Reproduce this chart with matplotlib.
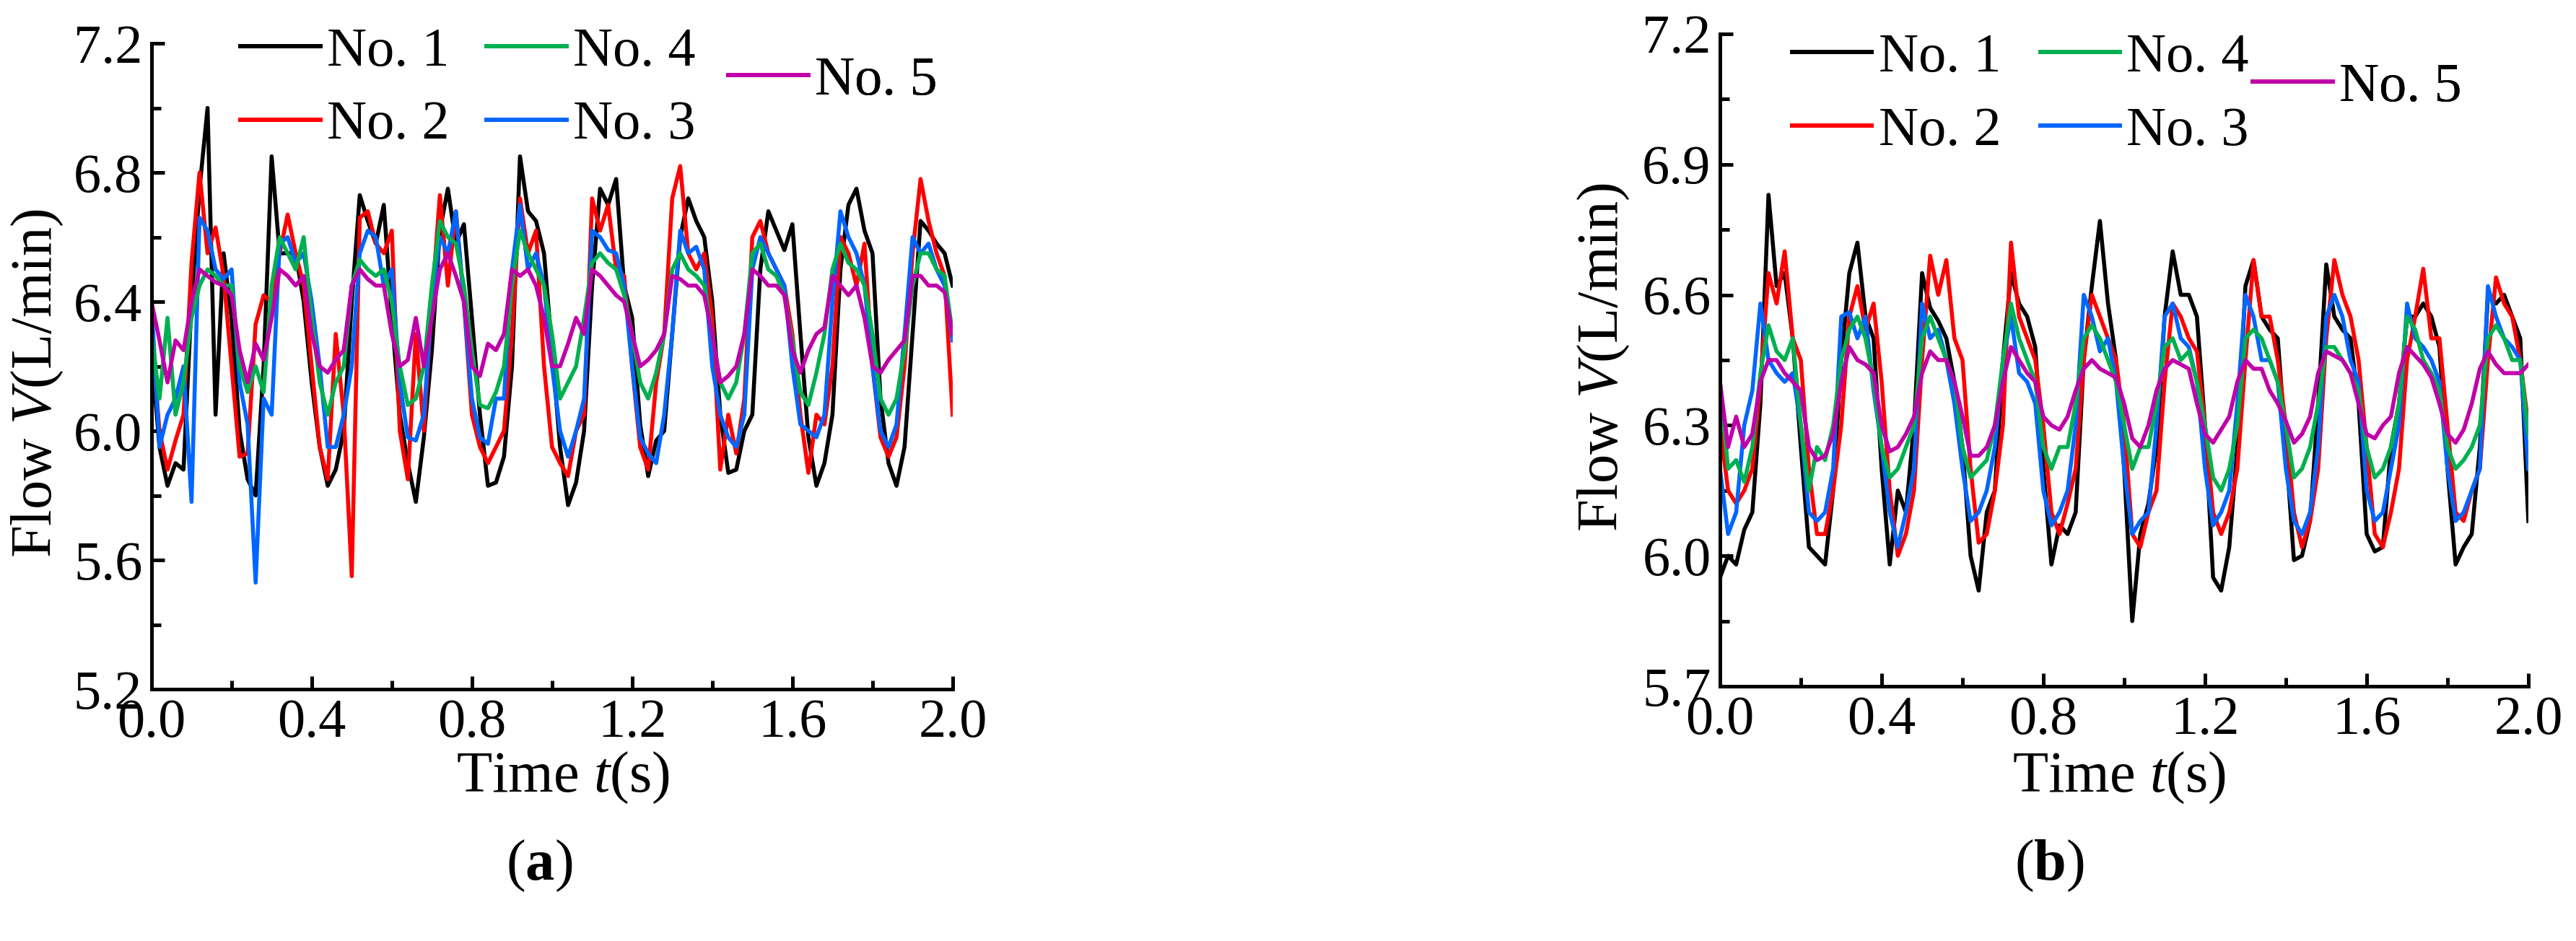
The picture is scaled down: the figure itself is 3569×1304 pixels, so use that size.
import matplotlib
matplotlib.use("Agg")
import matplotlib.pyplot as plt
from matplotlib.ticker import MultipleLocator, FormatStrFormatter
from matplotlib.lines import Line2D
import numpy as np

plt.rcParams['font.family'] = ['Liberation Serif', 'DejaVu Serif']
plt.rcParams['mathtext.fontset'] = 'custom'
plt.rcParams['mathtext.rm'] = 'Liberation Serif'
plt.rcParams['mathtext.it'] = 'Liberation Serif:italic'
plt.rcParams['mathtext.bf'] = 'Liberation Serif:bold'

# time grid, 0 .. 2 s
t = np.round(np.arange(0, 101) * 0.02, 2)

# ---- panel (a) ----
a_no1 = [6.25, 5.95, 5.83, 5.90, 5.88, 6.40, 6.75, 7.00, 6.05, 6.55,
         6.35, 6.00, 5.85, 5.80, 6.20, 6.85, 6.55, 6.55, 6.55, 6.40,
         6.15, 5.95, 5.83, 5.88, 6.00, 6.40, 6.73, 6.65, 6.58, 6.70,
         6.35, 6.05, 5.90, 5.78, 5.98, 6.25, 6.62, 6.75, 6.58, 6.64,
         6.35, 6.05, 5.83, 5.84, 5.92, 6.20, 6.85, 6.68, 6.65, 6.55,
         6.25, 5.95, 5.77, 5.84, 6.00, 6.45, 6.75, 6.70, 6.78, 6.45,
         6.35, 6.02, 5.86, 5.97, 6.00, 6.30, 6.60, 6.72, 6.65, 6.60,
         6.40, 6.05, 5.87, 5.88, 6.00, 6.05, 6.50, 6.68, 6.62, 6.56,
         6.64, 6.30, 5.98, 5.83, 5.90, 6.05, 6.50, 6.70, 6.75, 6.62,
         6.55, 6.10, 5.90, 5.83, 5.95, 6.30, 6.65, 6.62, 6.58, 6.55,
         6.45]
a_no2 = [6.30, 6.00, 5.88, 5.97, 6.05, 6.52, 6.80, 6.55, 6.63, 6.48,
         6.20, 5.92, 5.93, 6.33, 6.42, 6.40, 6.55, 6.67, 6.55, 6.45,
         6.20, 5.95, 5.85, 6.30, 6.05, 5.55, 6.66, 6.68, 6.58, 6.55,
         6.62, 6.00, 5.85, 6.30, 6.00, 6.40, 6.73, 6.45, 6.68, 6.40,
         6.05, 5.95, 5.90, 5.95, 6.00, 6.30, 6.72, 6.55, 6.62, 6.20,
         5.95, 5.90, 5.86, 6.00, 6.05, 6.72, 6.62, 6.70, 6.50, 6.48,
         6.20, 5.95, 5.88, 6.15, 6.30, 6.72, 6.82, 6.55, 6.50, 6.55,
         6.35, 5.88, 6.05, 5.93, 6.10, 6.60, 6.65, 6.55, 6.50, 6.45,
         6.30, 6.05, 5.87, 6.05, 6.02, 6.20, 6.60, 6.55, 6.45, 6.58,
         6.20, 5.98, 5.92, 5.98, 6.20, 6.55, 6.78, 6.65, 6.55, 6.48,
         6.05]
a_no3 = [6.40, 5.95, 6.05, 6.10, 6.20, 5.78, 6.66, 6.62, 6.50, 6.47,
         6.50, 6.15, 6.02, 5.53, 6.10, 6.05, 6.58, 6.60, 6.52, 6.55,
         6.40, 6.20, 5.95, 5.95, 6.05, 6.20, 6.55, 6.62, 6.60, 6.45,
         6.50, 6.15, 5.98, 5.97, 6.05, 6.40, 6.60, 6.55, 6.68, 6.40,
         6.10, 5.98, 5.96, 6.10, 6.10, 6.50, 6.70, 6.50, 6.55, 6.45,
         6.20, 6.00, 5.92, 6.00, 6.10, 6.62, 6.60, 6.56, 6.55, 6.45,
         6.20, 5.98, 5.93, 5.90, 6.05, 6.30, 6.62, 6.55, 6.57, 6.50,
         6.20, 6.05, 5.98, 5.95, 6.05, 6.50, 6.60, 6.55, 6.50, 6.45,
         6.20, 6.02, 6.00, 5.98, 6.05, 6.40, 6.68, 6.60, 6.55, 6.45,
         6.20, 6.00, 5.95, 6.02, 6.30, 6.60, 6.55, 6.58, 6.50, 6.45,
         6.28]
a_no4 = [6.30, 6.10, 6.35, 6.05, 6.15, 6.35, 6.45, 6.50, 6.48, 6.45,
         6.45, 6.20, 6.12, 6.20, 6.12, 6.45, 6.60, 6.55, 6.50, 6.60,
         6.35, 6.15, 6.05, 6.15, 6.20, 6.45, 6.53, 6.50, 6.48, 6.50,
         6.40, 6.20, 6.08, 6.10, 6.20, 6.45, 6.65, 6.60, 6.58, 6.45,
         6.25, 6.08, 6.07, 6.12, 6.20, 6.45, 6.62, 6.55, 6.50, 6.45,
         6.30, 6.10, 6.15, 6.20, 6.35, 6.52, 6.55, 6.52, 6.50, 6.42,
         6.30, 6.15, 6.10, 6.18, 6.30, 6.50, 6.55, 6.50, 6.48, 6.45,
         6.30, 6.15, 6.10, 6.15, 6.30, 6.55, 6.58, 6.50, 6.48, 6.42,
         6.28, 6.12, 6.08, 6.18, 6.30, 6.50, 6.58, 6.52, 6.50, 6.45,
         6.30, 6.10, 6.05, 6.10, 6.25, 6.45, 6.55, 6.55, 6.50, 6.48,
         6.30]
a_no5 = [6.40, 6.28, 6.15, 6.28, 6.25, 6.40, 6.50, 6.48, 6.46, 6.45,
         6.42, 6.25, 6.15, 6.27, 6.22, 6.35, 6.50, 6.48, 6.45, 6.48,
         6.30, 6.20, 6.18, 6.22, 6.25, 6.45, 6.50, 6.47, 6.45, 6.45,
         6.30, 6.20, 6.22, 6.35, 6.20, 6.35, 6.50, 6.55, 6.48, 6.40,
         6.20, 6.17, 6.27, 6.25, 6.30, 6.50, 6.48, 6.50, 6.45, 6.35,
         6.20, 6.20, 6.27, 6.35, 6.30, 6.50, 6.48, 6.45, 6.42, 6.40,
         6.30, 6.20, 6.22, 6.25, 6.30, 6.48, 6.47, 6.45, 6.45, 6.42,
         6.30, 6.15, 6.17, 6.20, 6.30, 6.50, 6.48, 6.45, 6.45, 6.42,
         6.25, 6.18, 6.25, 6.30, 6.32, 6.48, 6.45, 6.42, 6.45, 6.35,
         6.20, 6.18, 6.22, 6.25, 6.28, 6.48, 6.48, 6.45, 6.45, 6.43,
         6.30]

# ---- panel (b) ----
b_no1 = [5.95, 6.00, 5.98, 6.06, 6.10, 6.35, 6.83, 6.62, 6.65, 6.50,
         6.25, 6.02, 6.00, 5.98, 6.15, 6.45, 6.65, 6.72, 6.55, 6.50,
         6.20, 5.98, 6.15, 6.10, 6.30, 6.65, 6.57, 6.54, 6.50, 6.40,
         6.25, 6.00, 5.92, 6.10, 6.15, 6.45, 6.65, 6.58, 6.55, 6.48,
         6.20, 5.98, 6.07, 6.05, 6.10, 6.45, 6.62, 6.77, 6.58, 6.45,
         6.20, 5.85, 6.05, 6.12, 6.25, 6.55, 6.70, 6.60, 6.60, 6.55,
         6.30, 5.95, 5.92, 6.02, 6.25, 6.62, 6.68, 6.55, 6.52, 6.50,
         6.25, 5.99, 6.00, 6.08, 6.35, 6.67, 6.55, 6.52, 6.50, 6.35,
         6.05, 6.01, 6.02, 6.25, 6.35, 6.55, 6.55, 6.58, 6.55, 6.48,
         6.20, 5.98, 6.02, 6.05, 6.25, 6.60, 6.58, 6.60, 6.55, 6.50,
         6.08]
b_no2 = [6.30, 6.15, 6.12, 6.15, 6.20, 6.40, 6.65, 6.58, 6.70, 6.50,
         6.45, 6.20, 6.05, 6.05, 6.15, 6.30, 6.55, 6.62, 6.52, 6.58,
         6.40, 6.15, 6.00, 6.05, 6.15, 6.45, 6.69, 6.60, 6.68, 6.50,
         6.45, 6.20, 6.03, 6.05, 6.15, 6.30, 6.72, 6.55, 6.50, 6.45,
         6.30, 6.10, 6.05, 6.12, 6.20, 6.45, 6.60, 6.55, 6.50, 6.45,
         6.30, 6.05, 6.02, 6.10, 6.15, 6.40, 6.58, 6.55, 6.50, 6.47,
         6.30, 6.10, 6.05, 6.10, 6.20, 6.45, 6.68, 6.55, 6.55, 6.45,
         6.30, 6.10, 6.02, 6.08, 6.20, 6.50, 6.68, 6.60, 6.55, 6.45,
         6.25, 6.05, 6.02, 6.10, 6.20, 6.45, 6.55, 6.66, 6.50, 6.50,
         6.30, 6.10, 6.08, 6.15, 6.20, 6.45, 6.64, 6.58, 6.55, 6.45,
         6.30]
b_no3 = [6.20, 6.05, 6.10, 6.30, 6.38, 6.58, 6.45, 6.42, 6.40, 6.42,
         6.30, 6.10, 6.08, 6.10, 6.20, 6.55, 6.56, 6.50, 6.55, 6.38,
         6.25, 6.10, 6.02, 6.10, 6.20, 6.58, 6.50, 6.52, 6.45, 6.35,
         6.20, 6.08, 6.10, 6.15, 6.25, 6.45, 6.55, 6.42, 6.40, 6.35,
         6.15, 6.07, 6.10, 6.15, 6.30, 6.60, 6.55, 6.47, 6.50, 6.40,
         6.20, 6.05, 6.08, 6.10, 6.30, 6.55, 6.58, 6.50, 6.48, 6.40,
         6.20, 6.07, 6.10, 6.15, 6.35, 6.60, 6.55, 6.45, 6.45, 6.40,
         6.20, 6.08, 6.05, 6.10, 6.25, 6.55, 6.60, 6.55, 6.45, 6.40,
         6.15, 6.08, 6.10, 6.20, 6.30, 6.58, 6.50, 6.48, 6.45, 6.40,
         6.20, 6.08, 6.10, 6.15, 6.20, 6.62, 6.55, 6.50, 6.48, 6.45,
         6.20]
b_no4 = [6.40, 6.20, 6.22, 6.17, 6.25, 6.42, 6.53, 6.47, 6.45, 6.50,
         6.30, 6.15, 6.25, 6.22, 6.30, 6.45, 6.52, 6.55, 6.50, 6.40,
         6.25, 6.18, 6.20, 6.25, 6.30, 6.50, 6.55, 6.50, 6.45, 6.40,
         6.25, 6.18, 6.20, 6.22, 6.30, 6.45, 6.58, 6.50, 6.45, 6.40,
         6.25, 6.20, 6.25, 6.25, 6.35, 6.50, 6.53, 6.50, 6.45, 6.40,
         6.30, 6.20, 6.25, 6.25, 6.35, 6.48, 6.50, 6.45, 6.47, 6.40,
         6.30, 6.18, 6.15, 6.20, 6.30, 6.50, 6.52, 6.50, 6.45, 6.40,
         6.30, 6.18, 6.20, 6.25, 6.35, 6.48, 6.48, 6.45, 6.42, 6.38,
         6.25, 6.18, 6.20, 6.25, 6.35, 6.55, 6.52, 6.45, 6.42, 6.38,
         6.25, 6.20, 6.22, 6.25, 6.30, 6.50, 6.53, 6.50, 6.45, 6.45,
         6.28]
b_no5 = [6.40, 6.25, 6.32, 6.25, 6.28, 6.40, 6.45, 6.45, 6.42, 6.40,
         6.38, 6.25, 6.22, 6.23, 6.28, 6.40, 6.48, 6.45, 6.44, 6.42,
         6.30, 6.24, 6.25, 6.28, 6.32, 6.42, 6.47, 6.45, 6.45, 6.40,
         6.32, 6.23, 6.23, 6.25, 6.30, 6.40, 6.48, 6.45, 6.42, 6.40,
         6.32, 6.30, 6.29, 6.32, 6.38, 6.43, 6.45, 6.43, 6.42, 6.41,
         6.35, 6.27, 6.25, 6.30, 6.38, 6.43, 6.45, 6.44, 6.43, 6.35,
         6.28, 6.26, 6.29, 6.32, 6.40, 6.45, 6.43, 6.43, 6.38, 6.35,
         6.31, 6.26, 6.28, 6.32, 6.42, 6.47, 6.46, 6.45, 6.42, 6.35,
         6.28, 6.27, 6.30, 6.32, 6.42, 6.48, 6.46, 6.44, 6.41, 6.35,
         6.28, 6.26, 6.29, 6.35, 6.43, 6.47, 6.44, 6.42, 6.42, 6.42,
         6.44]

names = ['No. 1', 'No. 2', 'No. 3', 'No. 4', 'No. 5']
colors = ['#000000', '#FF0000', '#0066FF', '#00B050', '#C000A8']

a_series = [a_no1, a_no2, a_no3, a_no4, a_no5]
b_series = [b_no1, b_no2, b_no3, b_no4, b_no5]

FS = 55
fig = plt.figure(figsize=(35.69, 13.04), dpi=100)
ax1 = fig.add_axes([0.0588, 0.2676, 0.3110, 0.6863])
ax2 = fig.add_axes([0.6677, 0.2707, 0.3138, 0.6933])


def style(ax, ylim, ymaj, ymin):
    ax.set_xlim(0, 2.0)
    ax.set_ylim(*ylim)
    ax.xaxis.set_major_locator(MultipleLocator(0.4))
    ax.xaxis.set_minor_locator(MultipleLocator(0.2))
    ax.yaxis.set_major_locator(MultipleLocator(ymaj))
    ax.yaxis.set_minor_locator(MultipleLocator(ymin))
    ax.xaxis.set_major_formatter(FormatStrFormatter('%.1f'))
    ax.yaxis.set_major_formatter(FormatStrFormatter('%.1f'))
    for s in ['top', 'right']:
        ax.spines[s].set_visible(False)
    for s in ['left', 'bottom']:
        ax.spines[s].set_linewidth(3.6)
    ax.tick_params(which='both', direction='in', width=3.6, labelsize=FS)
    ax.tick_params(which='major', length=13)
    ax.tick_params(which='minor', length=9)
    ax.tick_params(axis='y', pad=9)
    ax.tick_params(axis='x', pad=9)
    ax.set_ylabel(r'Flow $\mathit{V}$(L/min)', fontsize=58)
    ax.set_xlabel(r'Time $\mathit{t}$(s)', fontsize=58, va='top')


def add_legends(ax, xs, ys):
    groups = [[0, 1], [3, 2], [4]]
    for g, x, y in zip(groups, xs, ys):
        h = [Line2D([], [], color=colors[i], lw=4.3) for i in g]
        leg = ax.legend(h, [names[i] for i in g], loc='center left',
                        bbox_to_anchor=(x, y), frameon=False, fontsize=FS,
                        handlelength=1.45, handletextpad=0.12,
                        labelspacing=0.42, borderpad=0, borderaxespad=0)
        ax.add_artist(leg)


for ax, series in [(ax1, a_series), (ax2, b_series)]:
    for vals, c in zip(series, colors):
        ax.plot(t, vals, color=c, lw=4.0)

style(ax1, (5.2, 7.2), 0.4, 0.2)
style(ax2, (5.7, 7.2), 0.3, 0.15)

ax1.yaxis.set_label_coords(-0.108, 0.474)
ax1.xaxis.set_label_coords(0.514, -0.095)
ax2.yaxis.set_label_coords(-0.110, 0.504)
ax2.xaxis.set_label_coords(0.494, -0.098)

add_legends(ax1, [0.111, 0.418, 0.720], [0.93, 0.93, 0.942])
add_legends(ax2, [0.089, 0.396, 0.659], [0.907, 0.907, 0.918])

fig.text(747 / 3569, 1 - 1200 / 1304, r'($\mathbf{a}$)', fontsize=58,
         ha='center', va='center')
fig.text(2839 / 3569, 1 - 1200 / 1304, r'($\mathbf{b}$)', fontsize=58,
         ha='center', va='center')

fig.savefig('out.png', dpi=100)
